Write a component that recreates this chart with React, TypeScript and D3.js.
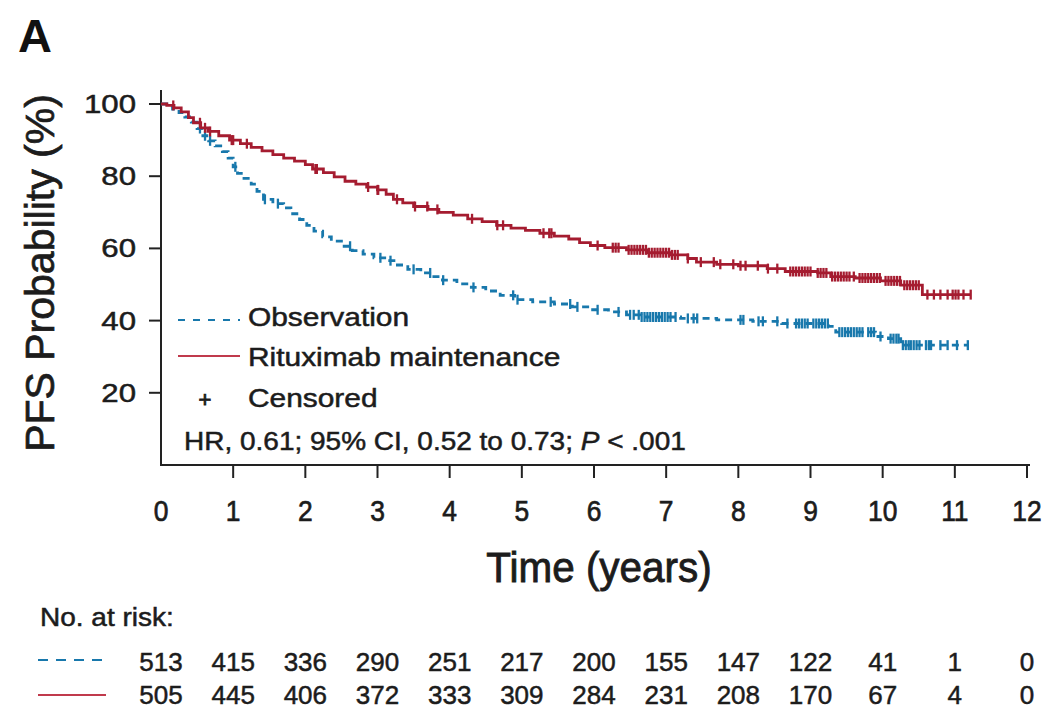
import React from "react";
import * as d3 from "d3";

// Kaplan-Meier step points [years, PFS %]
const observationSteps: [number, number][] = [
  [0, 100], [0.08, 99.4], [0.16, 98.6], [0.25, 97.6], [0.33, 96.4], [0.42, 95.0], [0.5, 93.2],
  [0.58, 91.2], [0.66, 89.8], [0.75, 88.4], [0.85, 86.8], [0.93, 85.0], [1.0, 82.6], [1.06, 80.8],
  [1.15, 79.4], [1.25, 77.8], [1.33, 75.8], [1.42, 73.6], [1.55, 72.4], [1.7, 71.2], [1.8, 69.6],
  [1.92, 68.0], [2.02, 66.4], [2.12, 64.8], [2.24, 63.2], [2.36, 62.0], [2.5, 60.6], [2.65, 59.4],
  [2.8, 58.4], [2.95, 57.4], [3.1, 56.6], [3.25, 55.4], [3.42, 54.2], [3.6, 53.2], [3.75, 52.2],
  [3.9, 51.2], [4.1, 50.2], [4.3, 49.2], [4.5, 48.2], [4.7, 47.0], [4.9, 45.8], [5.15, 45.2],
  [5.45, 44.6], [5.7, 43.8], [5.95, 43.0], [6.2, 42.4], [6.45, 41.6], [6.65, 41.0], [7.2, 40.6],
  [7.7, 40.2], [8.2, 39.8], [8.6, 39.2], [9.25, 38.4], [9.35, 36.8], [9.9, 35.6], [10.08, 35.0],
  [10.25, 33.2], [11.18, 33.2],
];

const rituximabSteps: [number, number][] = [
  [0, 100], [0.08, 99.6], [0.18, 98.9], [0.28, 97.8], [0.38, 96.2], [0.45, 94.8], [0.55, 93.4],
  [0.65, 92.4], [0.8, 91.2], [0.95, 90.0], [1.1, 89.0], [1.25, 88.0], [1.4, 87.0], [1.55, 86.0],
  [1.7, 85.0], [1.85, 84.2], [2.0, 83.2], [2.1, 82.0], [2.25, 81.0], [2.4, 79.8], [2.55, 78.6],
  [2.7, 77.8], [2.85, 77.0], [3.0, 76.2], [3.12, 75.0], [3.22, 73.6], [3.35, 72.6], [3.5, 71.6],
  [3.7, 70.8], [3.85, 70.0], [4.05, 69.2], [4.25, 68.2], [4.45, 67.4], [4.65, 66.4], [4.85, 65.6],
  [5.05, 65.0], [5.25, 64.2], [5.45, 63.4], [5.65, 62.6], [5.8, 61.6], [5.95, 60.8], [6.15, 60.2],
  [6.45, 59.6], [6.75, 58.8], [7.05, 58.2], [7.3, 57.2], [7.42, 56.2], [7.7, 55.6], [8.0, 55.2],
  [8.4, 54.4], [8.65, 53.6], [9.1, 53.2], [9.28, 52.2], [9.62, 51.8], [9.97, 51.0], [10.25, 49.8],
  [10.55, 47.2], [11.22, 47.2],
];

// censoring times (years)
const observationCensored = [
  0.54, 0.61, 0.68, 1.03, 1.44, 1.62, 2.62, 3.04, 3.18, 3.5, 3.73, 3.91, 4.33, 4.88, 4.94, 5.4,
  5.67, 5.77, 6.05, 6.34, 6.5, 6.55, 6.62, 6.66, 6.7, 6.74, 6.78, 6.82, 6.86, 6.9, 6.94, 6.98,
  7.02, 7.06, 7.13, 7.3, 7.38, 7.43, 8.03, 8.07, 8.28, 8.34, 8.54, 8.68, 8.8, 8.84, 8.88, 8.92,
  8.96, 9.04, 9.08, 9.12, 9.16, 9.2, 9.24, 9.4, 9.44, 9.48, 9.52, 9.56, 9.6, 9.64, 9.68, 9.72,
  9.8, 9.84, 9.88, 9.97, 10.11, 10.15, 10.19, 10.22, 10.28, 10.32, 10.36, 10.39, 10.43, 10.47,
  10.51, 10.6, 10.64, 10.67, 10.8, 10.9, 11.03, 11.18,
];

const rituximabCensored = [
  0.17, 0.54, 0.61, 0.68, 0.98, 1.0, 1.19, 2.14, 2.16, 2.87, 3.0, 3.01, 3.27, 3.52, 3.69, 3.83,
  4.31, 4.66, 4.74, 5.3, 5.38, 5.41, 6.05, 6.26, 6.3, 6.34, 6.48, 6.52, 6.56, 6.6, 6.64, 6.68,
  6.72, 6.76, 6.8, 6.84, 6.88, 6.92, 6.96, 7.0, 7.04, 7.08, 7.12, 7.16, 7.3, 7.48, 7.66, 7.75,
  7.93, 8.03, 8.1, 8.27, 8.41, 8.54, 8.72, 8.76, 8.8, 8.84, 8.88, 8.92, 8.96, 9.0, 9.1, 9.14,
  9.18, 9.22, 9.3, 9.34, 9.38, 9.42, 9.46, 9.5, 9.54, 9.6, 9.68, 9.72, 9.76, 9.8, 9.84, 9.88,
  9.92, 9.96, 10.04, 10.08, 10.12, 10.16, 10.2, 10.24, 10.3, 10.34, 10.38, 10.42, 10.46, 10.5,
  10.62, 10.71, 10.8, 10.9, 10.97, 11.01, 11.05, 11.12, 11.22,
];

const xTicks = [0, 1, 2, 3, 4, 5, 6, 7, 8, 9, 10, 11, 12];
const yTicks = [20, 40, 60, 80, 100];
const riskObservation = [513, 415, 336, 290, 251, 217, 200, 155, 147, 122, 41, 1, 0];
const riskRituximab = [505, 445, 406, 372, 333, 309, 284, 231, 208, 170, 67, 4, 0];

const BLUE = "#1878ac";
const RED = "#a51c30";
const INK = "#1c1c1c";
const FONT = "'Liberation Sans', Arial, Helvetica, sans-serif";

const x = d3.scaleLinear().domain([0, 12]).range([161, 1027]);
const y = d3.scaleLinear().domain([0, 100]).range([465, 104]);

const stepLine = d3
  .line<[number, number]>()
  .x(d => x(d[0]))
  .y(d => y(d[1]))
  .curve(d3.curveStepAfter);

function valueAt(steps: [number, number][], t: number) {
  let v = steps[0][1];
  for (const s of steps) {
    if (s[0] <= t) v = s[1];
  }
  return v;
}

// text with horizontal stretch (reference type is wider / narrower than Liberation Sans)
const Txt = ({ x, y, size, sx = 1, anchor = "start", weight = 0.5, children }: any) => (
  <text
    transform={`translate(${x},${y}) scale(${sx},1)`}
    textAnchor={anchor}
    fontFamily={FONT}
    fontSize={size}
    fill={INK}
    stroke={INK}
    strokeWidth={weight}
  >
    {children}
  </text>
);

const Curve = ({ steps, censored, color, dash }: { steps: [number, number][]; censored: number[]; color: string; dash?: string }) => (
  <g>
    <path d={stepLine(steps) || ""} fill="none" stroke={color} strokeWidth={2.8} strokeDasharray={dash} />
    {censored.map((t, i) => {
      const cx = x(t);
      const cy = y(valueAt(steps, t));
      return <line key={i} x1={cx} x2={cx} y1={cy - 5} y2={cy + 5} stroke={color} strokeWidth={2.3} />;
    })}
  </g>
);

export default function App() {
  return (
    <svg width={1048} height={709} style={{ position: "absolute", left: 0, top: 0, background: "#fff" }}>
      <text x={18} y={52} fontFamily={FONT} fontWeight="bold" fontSize={47} fill="#111">A</text>

      {/* y axis */}
      <line x1={161} x2={161} y1={90} y2={466} stroke="#222" strokeWidth={2} />
      {yTicks.map(v => (
        <g key={v}>
          <line x1={149} x2={161} y1={y(v)} y2={y(v)} stroke="#222" strokeWidth={2} />
          <Txt x={136} y={y(v) + 9} size={26} sx={1.2} anchor="end">{v}</Txt>
        </g>
      ))}
      <text
        transform={`translate(54,273) rotate(-90)`}
        textAnchor="middle"
        fontFamily={FONT}
        fontSize={41}
        fill={INK}
        stroke={INK}
        strokeWidth={0.7}
      >
        PFS Probability (%)
      </text>

      {/* x axis */}
      <line x1={160} x2={1030} y1={465} y2={465} stroke="#222" strokeWidth={2} />
      {xTicks.map(v => (
        <g key={v}>
          {v > 0 && <line x1={x(v)} x2={x(v)} y1={465} y2={478} stroke="#222" strokeWidth={2} />}
          <Txt x={x(v)} y={521} size={30} sx={0.88} anchor="middle" weight={0.7}>{v}</Txt>
        </g>
      ))}
      <Txt x={599} y={582} size={43} sx={0.94} anchor="middle" weight={0.9}>Time (years)</Txt>

      {/* curves */}
      <Curve steps={observationSteps} censored={observationCensored} color={BLUE} dash="7 5" />
      <Curve steps={rituximabSteps} censored={rituximabCensored} color={RED} />

      {/* legend */}
      <line x1={178} x2={240} y1={320} y2={320} stroke={BLUE} strokeWidth={2.2} strokeDasharray="7 8" />
      <Txt x={248} y={326} size={26} sx={1.15}>Observation</Txt>
      <line x1={178} x2={240} y1={356} y2={356} stroke="#c03a4c" strokeWidth={2.2} />
      <Txt x={248} y={366} size={26} sx={1.15}>Rituximab maintenance</Txt>
      <Txt x={205} y={407} size={22} anchor="middle" weight={0.9}>+</Txt>
      <Txt x={248} y={407} size={26} sx={1.15}>Censored</Txt>
      <Txt x={184} y={450} size={25} sx={1.12}>
        HR, 0.61; 95% CI, 0.52 to 0.73; <tspan fontStyle="italic">P</tspan> &lt; .001
      </Txt>

      {/* number at risk */}
      <Txt x={40} y={626} size={25} sx={1.12}>No. at risk:</Txt>
      <line x1={38} x2={106} y1={660} y2={660} stroke={BLUE} strokeWidth={2.2} strokeDasharray="10 8" />
      <line x1={38} x2={106} y1={695} y2={695} stroke="#c03a4c" strokeWidth={2.2} />
      {riskObservation.map((n, i) => (
        <Txt key={"o" + i} x={x(xTicks[i])} y={671} size={26} sx={1.0} anchor="middle">{n}</Txt>
      ))}
      {riskRituximab.map((n, i) => (
        <Txt key={"r" + i} x={x(xTicks[i])} y={704} size={26} sx={1.0} anchor="middle">{n}</Txt>
      ))}
    </svg>
  );
}
